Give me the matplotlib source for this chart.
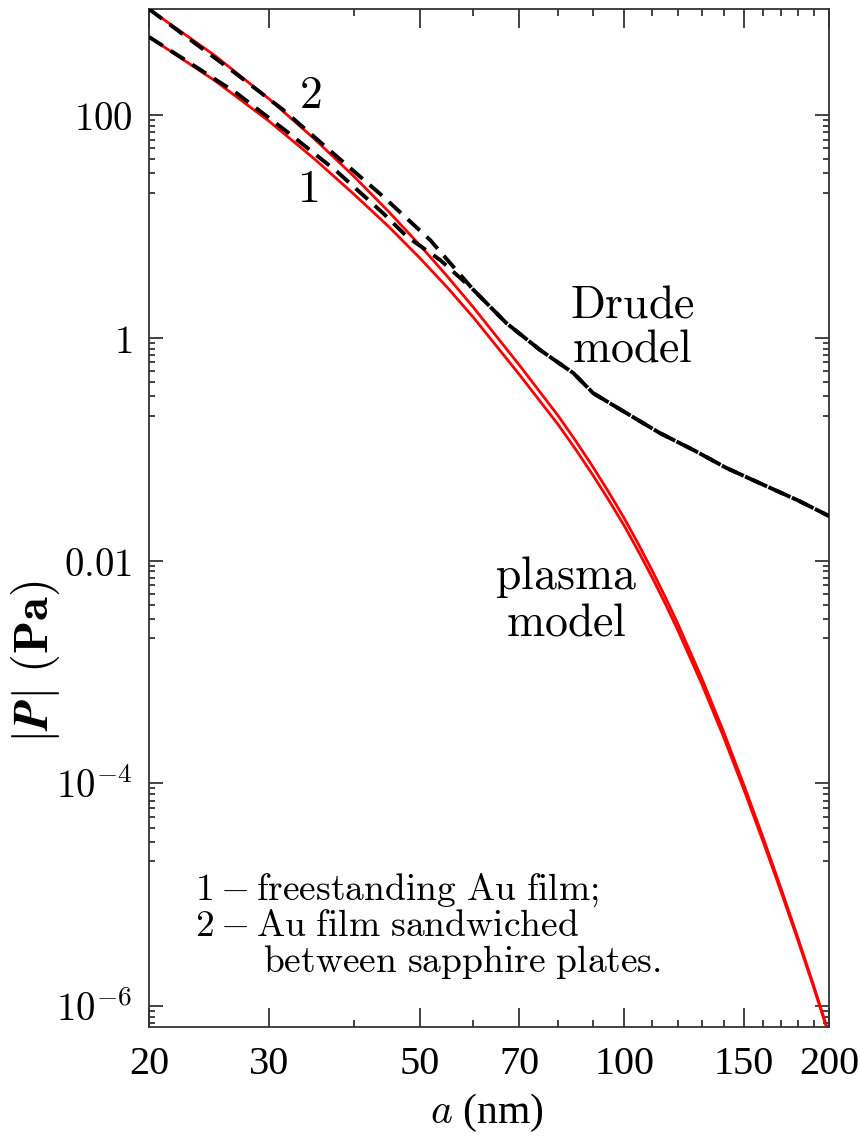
import matplotlib
matplotlib.use("Agg")
import matplotlib.pyplot as plt
from matplotlib.ticker import FixedLocator, NullFormatter

# separation a (nm) and |P| (Pa)
a_plasma = [20, 25, 30, 35, 40, 45, 50, 55, 60, 70, 80, 85, 90, 95, 100, 105, 110, 115, 120,
            130, 140, 150, 160, 170, 180, 190, 200]
p_plasma_1 = [501, 203, 88.3, 40.4, 19.5, 9.98, 5.22, 2.80, 1.52, 0.472, 0.165, 0.0976, 0.0579,
              0.0344, 0.0205, 0.01195, 0.00697, 0.00405, 0.00234, 7.82e-4, 2.60e-4, 8.73e-5,
              3.01e-5, 1.07e-5, 3.91e-6, 1.46e-6, 5.52e-7]
p_plasma_2 = [891, 341, 140, 61.1, 28.2, 13.6, 6.81, 3.52, 1.87, 0.574, 0.198, 0.1165, 0.0687,
              0.0405, 0.0239, 0.01389, 0.00804, 0.00464, 0.00267, 8.77e-4, 2.89e-4, 9.57e-5,
              3.26e-5, 1.14e-5, 4.11e-6, 1.51e-6, 5.65e-7]

a_drude_1 = [20, 22.4, 26.9, 31.9, 37.8, 44.2, 47.9, 53.6, 60, 67.1, 75.2, 84.2, 90, 100.8,
             112.9, 126.3, 141.5, 158.3, 180, 200]
p_drude_1 = [501, 323, 157, 70.8, 31.0, 13.1, 8.09, 4.99, 2.69, 1.35, 0.776, 0.480, 0.318, 0.210,
             0.139, 0.0984, 0.0675, 0.0494, 0.0347, 0.0251]
a_drude_2 = [20, 26.6, 31.5, 37.3, 44.2, 51.8, 60, 67.1, 75.2, 84.2, 90, 100.8,
             112.9, 126.3, 141.5, 158.3, 180, 200]
p_drude_2 = [891, 245, 111, 45.3, 18.5, 7.55, 2.69, 1.35, 0.776, 0.480, 0.318, 0.210,
             0.139, 0.0984, 0.0675, 0.0494, 0.0347, 0.0251]

x_major = [20, 30, 50, 70, 100, 150, 200]
x_minor = [40, 60, 80, 90, 110, 120, 130, 140, 160, 170, 180, 190]
y_major = [1e-6, 1e-4, 1e-2, 1, 100]
y_labels = [r"$10^{-6}$", r"$10^{-4}$", r"$0.01$", r"$1$", r"$100$"]

plt.rcParams["mathtext.fontset"] = "cm"

W, H = 859, 1138
fig = plt.figure(figsize=(W / 100, H / 100), dpi=100)
ax = fig.add_axes([149 / W, 1 - 1027 / H, (829 - 149) / W, (1027 - 9) / H])
ax.set_xscale("log")
ax.set_yscale("log")

red = "#ff0000"
ax.plot(a_plasma, p_plasma_1, color=red, lw=2.0, zorder=2)
ax.plot(a_plasma, p_plasma_2, color=red, lw=2.0, zorder=2)
ax.plot(a_drude_1, p_drude_1, color="black", lw=2.8, dashes=(4.2, 2.4), zorder=3)
ax.plot(a_drude_2, p_drude_2, color="black", lw=2.8, dashes=(4.2, 2.4), zorder=3)

ax.set_xlim(20, 200)
ax.set_ylim(6.5e-7, 893)

ax.xaxis.set_major_locator(FixedLocator(x_major))
ax.xaxis.set_minor_locator(FixedLocator(x_minor))
ax.xaxis.set_minor_formatter(NullFormatter())
ax.set_xticklabels([str(v) for v in x_major], fontfamily="Liberation Serif", fontsize=29)

y_minor = [m * 10.0 ** e for e in (1, -1, -3, -5, -7) for m in range(2, 10)]
ax.yaxis.set_major_locator(FixedLocator(y_major))
ax.yaxis.set_minor_locator(FixedLocator(y_minor))
ax.yaxis.set_minor_formatter(NullFormatter())
ax.set_yticklabels(y_labels, fontsize=28)

ax.tick_params(which="both", direction="in", top=True, right=True, color="#222222", width=1.2)
ax.tick_params(axis="x", which="major", length=14, pad=14)
ax.tick_params(axis="x", which="minor", length=5)
ax.tick_params(axis="y", which="major", length=10, pad=12)
ax.tick_params(axis="y", which="minor", length=4)
for s in ax.spines.values():
    s.set_linewidth(1.3)
    s.set_color("#333333")

fig.text(487 / W, 1 - 1113 / H, r"$a$ (nm)", fontfamily="Liberation Serif", fontsize=30,
         ha="center", va="center")
ylab = fig.text(35 / W, 1 - 662 / H, r"$\mathbf{|}\mathbfit{P}\mathbf{|\ (Pa)}$", fontsize=35,
                rotation=90, ha="center", va="center")
try:
    fig.canvas.draw()
except Exception:
    ylab.set_text(r"$|\mathbf{P}|\ \mathbf{(Pa)}$")

ax.text(310 / W, 1 - 95 / H, r"$\mathbf{2}$", fontsize=33, ha="center", va="center",
        transform=fig.transFigure)
ax.text(308 / W, 1 - 190 / H, r"$1$", fontsize=33, ha="center", va="center",
        transform=fig.transFigure)
ax.text(632 / W, 1 - 327 / H, r"$\mathrm{Drude}$" + "\n" + r"$\mathrm{model}$", fontsize=33,
        ha="center", va="center", linespacing=1.0, transform=fig.transFigure)
ax.text(566 / W, 1 - 600 / H, r"$\mathrm{plasma}$" + "\n" + r"$\mathrm{model}$", fontsize=33,
        ha="center", va="center", linespacing=1.0, transform=fig.transFigure)

legend_lines = [r"$1 - \mathrm{freestanding\ Au\ film;}$",
                r"$2 - \mathrm{Au\ film\ sandwiched}$",
                r"$\mathrm{between\ sapphire\ plates.}$"]
ax.text(195 / W, 1 - 900 / H, legend_lines[0], fontsize=27, ha="left", va="baseline",
        transform=fig.transFigure)
ax.text(195 / W, 1 - 936 / H, legend_lines[1], fontsize=27, ha="left", va="baseline",
        transform=fig.transFigure)
ax.text(263 / W, 1 - 972 / H, legend_lines[2], fontsize=27, ha="left", va="baseline",
        transform=fig.transFigure)

fig.savefig("out.png", dpi=100)
